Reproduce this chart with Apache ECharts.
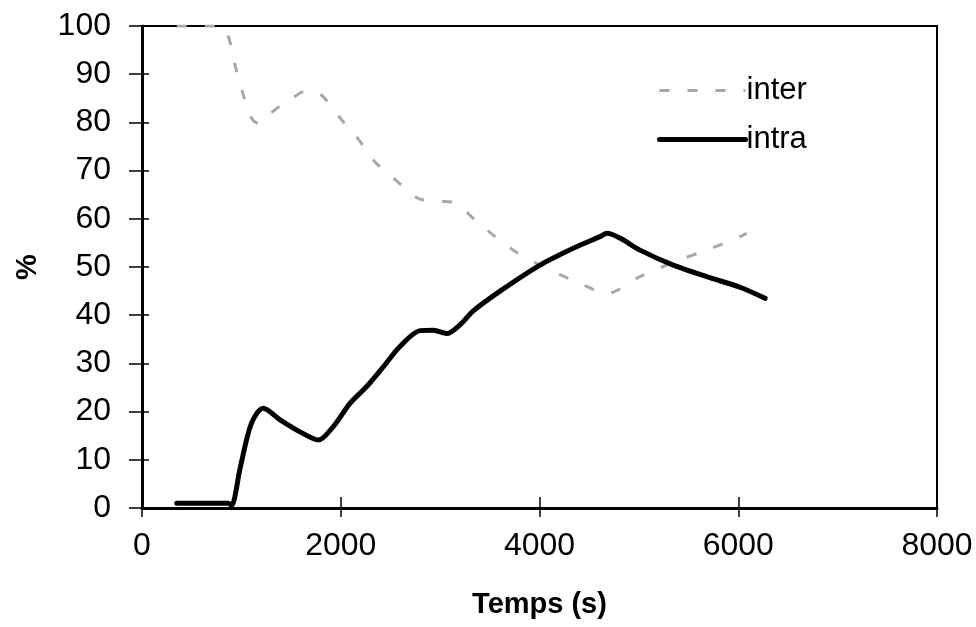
<!DOCTYPE html>
<html>
<head>
<meta charset="utf-8">
<script src="https://cdn.jsdelivr.net/npm/echarts@6/dist/echarts.min.js"></script>
<style>html,body{margin:0;padding:0;background:#fff;}#c{width:976px;height:627px;}</style>
</head>
<body>
<div id="c"></div>
<script>
const xTicks = [0, 2000, 4000, 6000, 8000];
const yTicks = [0, 10, 20, 30, 40, 50, 60, 70, 80, 90, 100];
const seriesNames = ['inter', 'intra'];
const interX = [350, 650, 785, 869, 936, 1020, 1100, 1171, 1300, 1439, 1506, 1650, 1741, 1825, 2010, 2160, 2345, 2479, 2747, 2831, 3000, 3117, 3401, 3737, 4073, 4408, 4676, 5011, 5413, 5682, 6018, 6085];
const interY = [100, 100, 100, 97.8, 91.9, 85.7, 81, 79.8, 82, 84.2, 85, 86.5, 86.4, 85.3, 80.5, 77, 71.8, 69.4, 64.6, 63.9, 63.6, 63.5, 58.8, 53.5, 49.7, 46.6, 44.5, 48, 51.5, 53.5, 56.3, 57];
const intraX = [350, 600, 870, 900, 990, 1100, 1220, 1390, 1590, 1775, 1925, 2093, 2261, 2429, 2596, 2797, 2932, 3066, 3200, 3334, 3603, 4005, 4340, 4608, 4680, 4810, 5011, 5346, 5682, 6018, 6270];
const intraY = [1, 1, 1, 0.5, 8.5, 17.5, 20.7, 18.3, 15.8, 14.1, 16.9, 21.7, 25.2, 29.3, 33.5, 36.8, 36.9, 36.2, 38, 40.9, 45, 50.4, 53.9, 56.3, 57, 56, 53.5, 50.4, 48, 45.8, 43.5];

const zip = (a, b) => a.map((v, i) => [v, b[i]]);
const font = 'Liberation Sans, Arial, sans-serif';
const chart = echarts.init(document.getElementById('c'), null, {renderer: 'canvas'});
const xMin = xTicks[0], xMax = xTicks[xTicks.length - 1], xInt = xTicks[1] - xTicks[0];
const yMin = yTicks[0], yMax = yTicks[yTicks.length - 1], yInt = yTicks[1] - yTicks[0];
const interStyle = {color: '#a8a8a8', width: 3, type: [10, 18]};
const intraStyle = {color: '#000', width: 5, cap: 'round', join: 'round'};

chart.setOption({
  animation: false,
  backgroundColor: '#fff',
  grid: {left: 142, right: 39, top: 26, bottom: 119, show: true, borderColor: '#000', borderWidth: 2, backgroundColor: 'transparent'},
  legend: {
    orient: 'vertical', left: 652, top: 70, itemWidth: 86, itemHeight: 14, itemGap: 18,
    textStyle: {fontFamily: font, fontSize: 31, color: '#000', padding: [0, 0, 0, -4]},
    itemStyle: {opacity: 0},
    data: [
      {name: seriesNames[0], itemStyle: {opacity: 0}, lineStyle: interStyle},
      {name: seriesNames[1], itemStyle: {opacity: 0}, lineStyle: intraStyle}
    ]
  },
  xAxis: [{
    type: 'value', min: xMin, max: xMax, interval: xInt, position: 'bottom',
    axisLine: {show: true, lineStyle: {color: '#000', width: 3}},
    axisTick: {show: true, inside: false, length: 9, lineStyle: {color: '#000', width: 1.5}},
    axisLabel: {fontFamily: font, fontSize: 32, color: '#000', margin: 22, formatter: v => String(v)},
    splitLine: {show: false},
    name: 'Temps (s)', nameLocation: 'middle', nameGap: 82,
    nameTextStyle: {fontFamily: font, fontSize: 29, fontWeight: 'bold', color: '#000'}
  }, {
    type: 'value', min: xMin, max: xMax, interval: xInt, position: 'bottom',
    axisLine: {show: false}, axisLabel: {show: false}, splitLine: {show: false},
    axisTick: {show: true, inside: true, length: 11, lineStyle: {color: '#000', width: 1.5}}
  }],
  yAxis: [{
    type: 'value', min: yMin, max: yMax, interval: yInt, position: 'left',
    axisLine: {show: true, lineStyle: {color: '#000', width: 3}},
    axisTick: {show: true, inside: false, length: 13, lineStyle: {color: '#000', width: 1.5}},
    axisLabel: {fontFamily: font, fontSize: 32, color: '#000', margin: 31},
    splitLine: {show: false},
    name: '%', nameLocation: 'middle', nameGap: 100,
    nameTextStyle: {fontFamily: font, fontSize: 29, fontWeight: 'bold', color: '#000'}
  }, {
    type: 'value', min: yMin, max: yMax, interval: yInt, position: 'left',
    axisLine: {show: false}, axisLabel: {show: false}, splitLine: {show: false},
    axisTick: {show: true, inside: true, length: 7, lineStyle: {color: '#000', width: 1.5}}
  }],
  series: [{
    name: seriesNames[0], type: 'line', smooth: 0.3, showSymbol: false, symbol: 'none',
    data: zip(interX, interY),
    lineStyle: interStyle,
    itemStyle: {color: '#a8a8a8'}
  }, {
    name: seriesNames[1], type: 'line', smooth: 0.3, showSymbol: false, symbol: 'none',
    data: zip(intraX, intraY),
    lineStyle: intraStyle,
    itemStyle: {color: '#000'}
  }]
});
</script>
</body>
</html>
